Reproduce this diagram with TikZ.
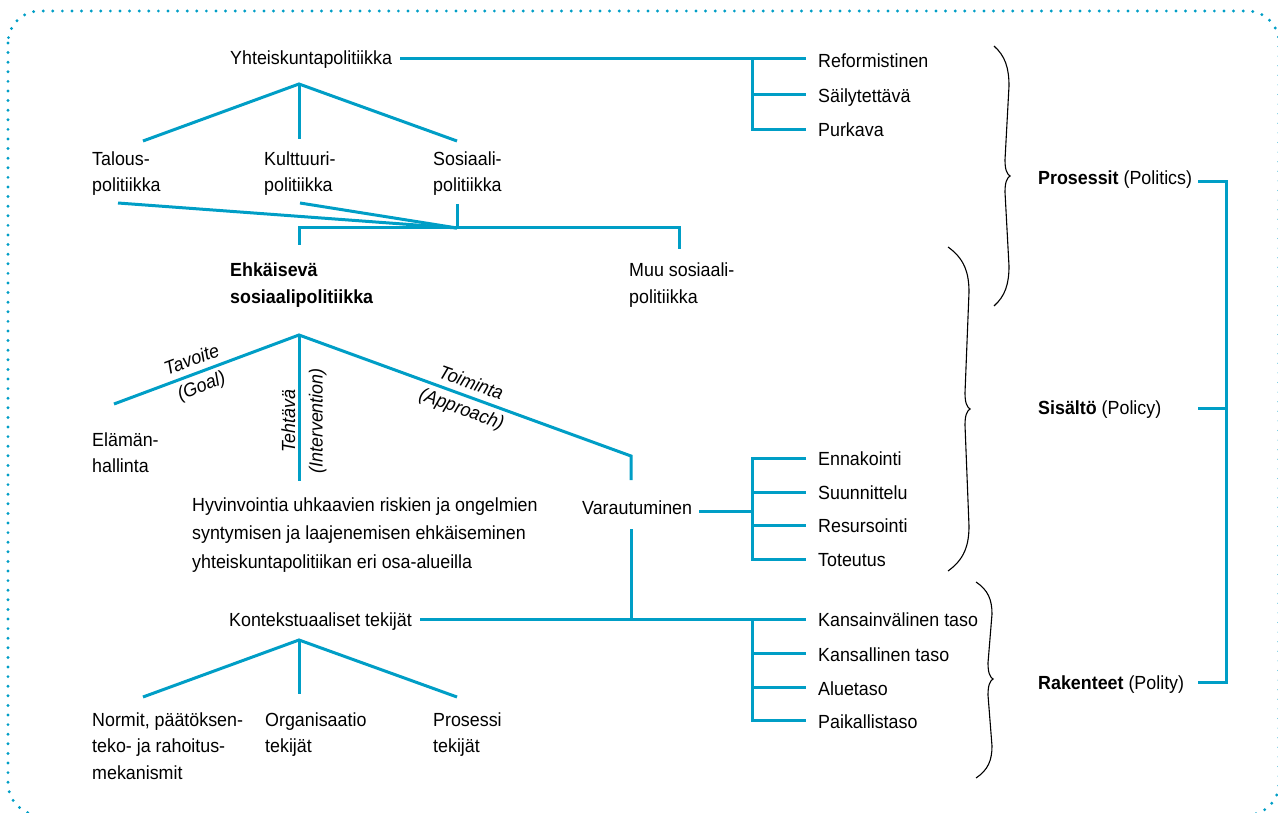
\documentclass[tikz,border=0pt]{standalone}
\usepackage{fontspec}
\setmainfont{Liberation Sans}[FakeStretch=0.94]
\definecolor{lineblue}{RGB}{0,158,198}
\newcommand{\lblfont}{\fontsize{19}{26.5}\selectfont}
\newcommand{\mybrace}[6]{%
 \draw[bracestyle] (#1,#2) .. controls ({#1+0.75*#5},{#2+0.25*#6}) and ({#1+#5},{#2+0.55*#6}) .. ({#1+#5},{#2+#6})
  -- ({#1+#5-4},{#3-16}) .. controls ({#1+#5-4},{#3-6}) and ({#1+#5-2},{#3-2}) .. ({#1+#5+1},{#3})
  .. controls ({#1+#5-2},{#3+2}) and ({#1+#5-4},{#3+6}) .. ({#1+#5-4},{#3+16})
  -- ({#1+#5},{#4-#6}) .. controls ({#1+#5},{#4-0.55*#6}) and ({#1+0.75*#5},{#4-0.25*#6}) .. (#1,#4);}
\begin{document}
\begin{tikzpicture}[x=1pt,y=-1pt,
 lbl/.style={anchor=base west,inner sep=0pt,align=left,font=\lblfont},
 conn/.style={draw=lineblue,line width=3pt},
 bracestyle/.style={draw=black,line width=1.1pt},
 rotlbl/.style={inner sep=0pt,align=center,font=\fontsize{19}{27.5}\selectfont\itshape},
 dotborder/.style={draw=lineblue,line width=3.2pt,line cap=round,dash pattern=on 0pt off 9.6pt,rounded corners=32pt}]
\useasboundingbox (0,0) rectangle (1278,813);
\draw[dotborder] (8,11) rectangle (1279,815);

% ---------- text nodes (anchor = baseline of last line) ----------
\node[lbl] (yp) at (230,65) {Yhteiskuntapolitiikka};
\node[lbl] (ref) at (818,68) {Reformistinen};
\node[lbl] (sail) at (818,103) {Säilytettävä};
\node[lbl] (purk) at (818,137) {Purkava};
\node[lbl] (tal) at (92,192) {Talous-\\politiikka};
\node[lbl] (kult) at (264,192) {Kulttuuri-\\politiikka};
\node[lbl] (sos) at (433,192) {Sosiaali-\\politiikka};
\node[lbl,font=\lblfont\bfseries] (ehk) at (230,303.5) {Ehkäisevä\\sosiaalipolitiikka};
\node[lbl] (muu) at (629,303.5) {Muu sosiaali-\\politiikka};
\node[lbl] (elam) at (92,472.5) {Elämän-\\hallinta};
\node[lbl,font=\fontsize{19}{28.5}\selectfont] (hyv) at (192,568) {Hyvinvointia uhkaavien riskien ja ongelmien\\syntymisen ja laajenemisen ehkäiseminen\\yhteiskuntapolitiikan eri osa-alueilla};
\node[lbl] (var) at (582,514) {Varautuminen};
\node[lbl] (enn) at (818,465) {Ennakointi};
\node[lbl] (suun) at (818,499) {Suunnittelu};
\node[lbl] (res) at (818,532) {Resursointi};
\node[lbl] (tot) at (818,566) {Toteutus};
\node[lbl] (kon) at (229,626) {Kontekstuaaliset tekijät};
\node[lbl] (kv) at (818,626) {Kansainvälinen taso};
\node[lbl] (ks) at (818,661) {Kansallinen taso};
\node[lbl] (alu) at (818,695) {Aluetaso};
\node[lbl] (pai) at (818,728) {Paikallistaso};
\node[lbl] (norm) at (92,779) {Normit, päätöksen-\\teko- ja rahoitus-\\mekanismit};
\node[lbl] (org) at (265,752.5) {Organisaatio\\tekijät};
\node[lbl] (pro) at (433,752.5) {Prosessi\\tekijät};
\node[lbl] (pros) at (1038,185) {\textbf{Prosessit} (Politics)};
\node[lbl] (sis) at (1038,414) {\textbf{Sisältö} (Policy)};
\node[lbl] (rak) at (1038,689) {\textbf{Rakenteet} (Polity)};

% rotated labels
\node[rotlbl,rotate=20.5] (tav) at (197,374) {Tavoite\\(Goal)};
\node[rotlbl,rotate=90] (teh) at (304,421) {Tehtävä\\(Intervention)};
\node[rotlbl,rotate=-20] (toi) at (466,397) {Toiminta\\(Approach)};

% ---------- coordinates ----------
\coordinate (ypE) at (400,59);
\coordinate (bA) at (752,59);
\coordinate (refW) at (806,59);
\coordinate (sailB) at (752,95);
\coordinate (sailW) at (806,95);
\coordinate (purkB) at (752,130);
\coordinate (purkW) at (806,130);

\coordinate (t1a) at (299,84);
\coordinate (t1l) at (143,141);
\coordinate (t1m) at (299,139);
\coordinate (t1r) at (457,141);

\coordinate (talS) at (118,203);
\coordinate (kulS) at (300,203);
\coordinate (sosS) at (457,204);
\coordinate (jn) at (457,228);
\coordinate (hL) at (299,228);
\coordinate (hR) at (679,228);
\coordinate (ehkN) at (299,245);
\coordinate (muuN) at (679,249);

\coordinate (t2a) at (299,335);
\coordinate (t2l) at (114,404);
\coordinate (t2m) at (299,481);
\coordinate (t2r) at (631,456);
\coordinate (varN) at (631,480);

\coordinate (varE) at (699,511);
\coordinate (vB) at (752,511);
\coordinate (ennB) at (752,458);
\coordinate (ennW) at (806,458);
\coordinate (suuB) at (752,492);
\coordinate (suuW) at (806,492);
\coordinate (resB) at (752,525);
\coordinate (resW) at (806,525);
\coordinate (totB) at (752,559);
\coordinate (totW) at (806,559);

\coordinate (varS) at (631,529);
\coordinate (varJ) at (631,619);
\coordinate (konE) at (420,619);
\coordinate (kB) at (752,619);
\coordinate (kvW) at (806,619);
\coordinate (ksB) at (752,653);
\coordinate (ksW) at (806,653);
\coordinate (aluB) at (752,687);
\coordinate (aluW) at (806,687);
\coordinate (paiB) at (752,720);
\coordinate (paiW) at (806,720);

\coordinate (t3a) at (299,640);
\coordinate (t3l) at (143,697);
\coordinate (t3m) at (299,694);
\coordinate (t3r) at (457,697);

\coordinate (prosE) at (1198,182);
\coordinate (sisE) at (1198,408);
\coordinate (rakE) at (1198,682);
\coordinate (rbT) at (1226,182);
\coordinate (rbM) at (1226,408);
\coordinate (rbB) at (1226,682);

% ---------- connectors ----------
\draw[conn] (ypE) -- (refW);
\draw[conn] (bA) -- (purkB) -- (purkW);
\draw[conn] (sailB) -- (sailW);

\draw[conn] (t1l) -- (t1a) -- (t1r);
\draw[conn] (t1a) -- (t1m);

\draw[conn] (talS) -- (jn);
\draw[conn] (kulS) -- (jn);
\draw[conn] (sosS) -- (jn);
\draw[conn] (ehkN) -- (hL) -- (hR) -- (muuN);

\draw[conn] (t2l) -- (t2a) -- (t2r) -- (varN);
\draw[conn] (t2a) -- (t2m);

\draw[conn] (varE) -- (vB);
\draw[conn] (ennW) -- (ennB) -- (totB) -- (totW);
\draw[conn] (suuB) -- (suuW);
\draw[conn] (resB) -- (resW);

\draw[conn] (varS) -- (varJ);
\draw[conn] (konE) -- (kvW);
\draw[conn] (kB) -- (paiB) -- (paiW);
\draw[conn] (ksB) -- (ksW);
\draw[conn] (aluB) -- (aluW);

\draw[conn] (t3l) -- (t3a) -- (t3r);
\draw[conn] (t3a) -- (t3m);

\draw[conn] (prosE) -- (rbT) -- (rbB) -- (rakE);
\draw[conn] (sisE) -- (rbM);

% ---------- braces ----------
\mybrace{994}{46}{176}{306}{15}{40}
\mybrace{948}{247}{409}{571}{21}{45}
\mybrace{976}{582}{679}{778}{16}{32}
\end{tikzpicture}
\end{document}
